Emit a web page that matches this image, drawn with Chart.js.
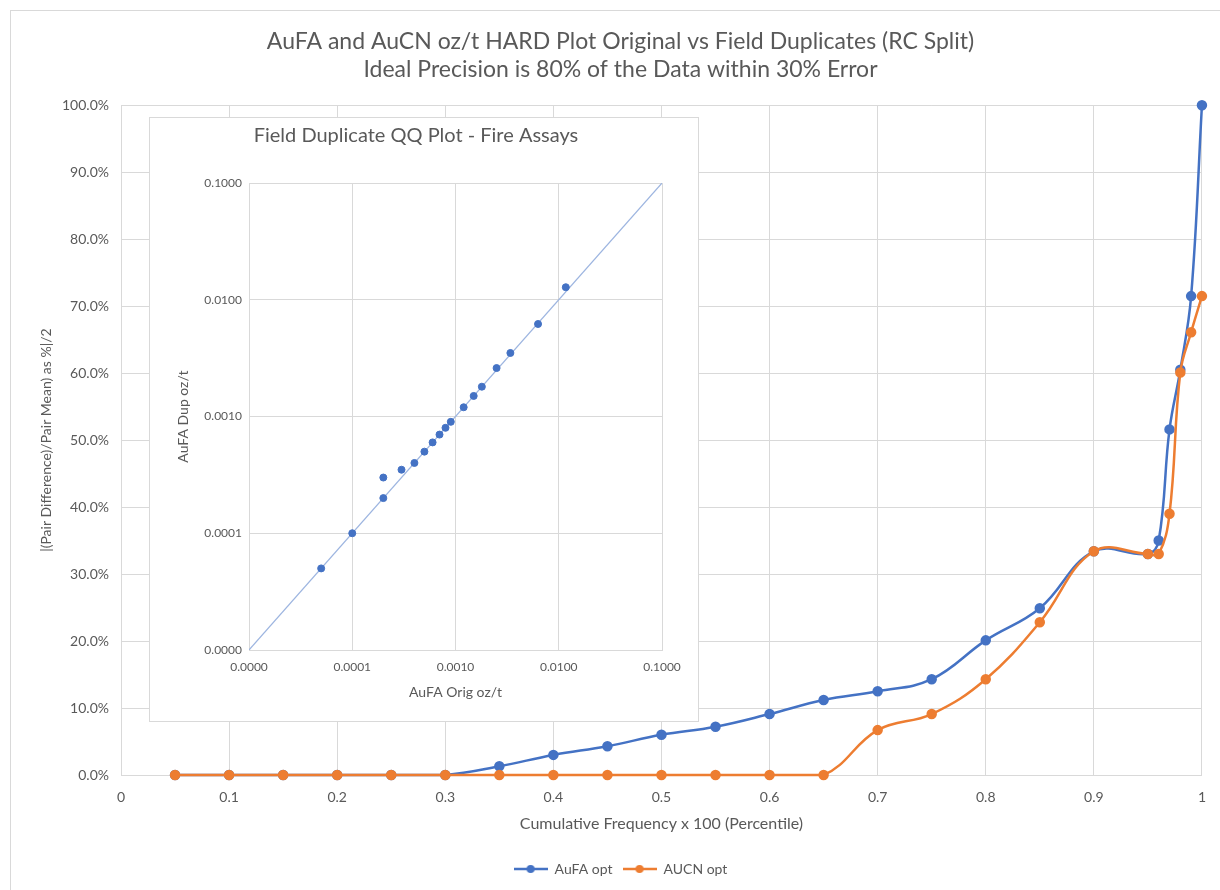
<!DOCTYPE html>
<html>
<head>
<meta charset="utf-8">
<title>HARD Plot</title>
<script src="https://cdn.jsdelivr.net/npm/chart.js@4.4.1/dist/chart.umd.min.js"></script>
<style>
  body { margin: 0; background: #ffffff; }
  #marco { position: absolute; left: 10px; top: 10px; width: 1220px; height: 890px; border: 1px solid #d9d9d9; }
  #graficoPrincipal { position: absolute; left: 0; top: 0; }
  #recuadroQQ { position: absolute; left: 149px; top: 117px; width: 548px; height: 603px; border: 1px solid #d9d9d9; background: #ffffff; }
  #graficoQQ { position: absolute; left: 0; top: 0; }
</style>
</head>
<body>
<div id="marco"></div>
<canvas id="graficoPrincipal" width="1220" height="890"></canvas>
<div id="recuadroQQ"><canvas id="graficoQQ" width="548" height="603"></canvas></div>

<script>
// Datos del grafico principal (percentil vs error relativo en %)
const percentil = [0.05, 0.1, 0.15, 0.2, 0.25, 0.3, 0.35, 0.4, 0.45, 0.5, 0.55, 0.6, 0.65,
                   0.7, 0.75, 0.8, 0.85, 0.9, 0.95, 0.96, 0.97, 0.98, 0.99, 1];
const aufaOpt = [0, 0, 0, 0, 0, 0, 1.3, 3.0, 4.3, 6.0, 7.2, 9.1, 11.2,
                 12.5, 14.3, 20.1, 24.9, 33.4, 33.0, 35.0, 51.6, 60.5, 71.5, 100];
const aucnOpt = [0, 0, 0, 0, 0, 0, 0, 0, 0, 0, 0, 0, 0,
                 6.7, 9.1, 14.3, 22.8, 33.4, 33.0, 33.0, 39.0, 60.1, 66.1, 71.5];

// Datos del QQ plot (oz/t)
const qqOrig = [0.00005, 0.0001, 0.0002, 0.0002, 0.0003, 0.0004, 0.0005, 0.0006, 0.0007,
                0.0008, 0.0009, 0.0012, 0.0015, 0.0018, 0.0025, 0.0034, 0.0063, 0.0117];
const qqDup = [0.00005, 0.0001, 0.0002, 0.0003, 0.00035, 0.0004, 0.0005, 0.0006, 0.0007,
               0.0008, 0.0009, 0.0012, 0.0015, 0.0018, 0.0026, 0.0035, 0.0062, 0.0128];
const marcasLog = [0.00001, 0.0001, 0.001, 0.01, 0.1];

const AZUL = "#4472C4";
const NARANJA = "#ED7D31";
const GRIS_TEXTO = "#595959";
const GRIS_GRILLA = "#d9d9d9";

Chart.defaults.font.family = "Lato, 'Open Sans', sans-serif";
Chart.defaults.color = GRIS_TEXTO;

// Icono de leyenda: linea con punto al medio
function crearIconoLeyenda(color) {
  const c = document.createElement("canvas");
  c.width = 34;
  c.height = 10;
  const g = c.getContext("2d");
  g.strokeStyle = color;
  g.lineWidth = 2.5;
  g.beginPath();
  g.moveTo(0, 5);
  g.lineTo(34, 5);
  g.stroke();
  g.fillStyle = color;
  g.beginPath();
  g.arc(17, 5, 4, 0, Math.PI * 2);
  g.fill();
  return c;
}

function armarPuntos(xs, ys) {
  return xs.map((x, i) => ({ x: x, y: ys[i] }));
}

function dibujarGraficoPrincipal() {
  const datos = {
    datasets: [
      {
        label: "AuFA opt",
        data: armarPuntos(percentil, aufaOpt),
        borderColor: AZUL,
        backgroundColor: AZUL,
        borderWidth: 2.5,
        pointRadius: 4,
        tension: 0.4,
        clip: false,
        order: 1,
      },
      {
        label: "AUCN opt",
        data: armarPuntos(percentil, aucnOpt),
        borderColor: NARANJA,
        backgroundColor: NARANJA,
        borderWidth: 2.5,
        pointRadius: 4,
        tension: 0.4,
        clip: false,
        order: 0,
      },
    ],
  };

  const config = {
    type: "line",
    data: datos,
    options: {
      responsive: false,
      animation: false,
      layout: { padding: { left: 38, right: 17, top: 28, bottom: 4 } },
      plugins: {
        title: {
          display: true,
          text: [
            "AuFA and AuCN oz/t HARD Plot Original vs Field Duplicates (RC Split)",
            "Ideal Precision is 80% of the Data within 30% Error",
          ],
          color: GRIS_TEXTO,
          font: { size: 23, weight: "normal", lineHeight: 1.2 },
          padding: { top: 0, bottom: 22 },
        },
        legend: {
          position: "bottom",
          labels: {
            usePointStyle: true,
            pointStyleWidth: 34,
            padding: 10,
            color: GRIS_TEXTO,
            font: { size: 14 },
            generateLabels: (chart) =>
              chart.data.datasets.map((ds, i) => ({
                text: ds.label,
                pointStyle: crearIconoLeyenda(ds.borderColor),
                fillStyle: ds.borderColor,
                strokeStyle: ds.borderColor,
                lineWidth: 0,
                fontColor: GRIS_TEXTO,
                datasetIndex: i,
              })),
          },
        },
        tooltip: { enabled: false },
      },
      scales: {
        x: {
          type: "linear",
          min: 0,
          max: 1,
          grid: { color: GRIS_GRILLA, drawTicks: false },
          border: { color: GRIS_GRILLA },
          ticks: {
            stepSize: 0.1,
            padding: 14,
            font: { size: 14 },
            callback: (v) => String(Math.round(v * 10) / 10),
          },
          title: {
            display: true,
            text: "Cumulative Frequency x 100 (Percentile)",
            font: { size: 16 },
            padding: { top: 0, bottom: 19 },
          },
          afterFit: (escala) => { escala.height = 77; },
        },
        y: {
          min: 0,
          max: 100,
          grid: { color: GRIS_GRILLA, drawTicks: false },
          border: { color: GRIS_GRILLA },
          ticks: {
            stepSize: 10,
            padding: 12,
            font: { size: 14 },
            callback: (v) => v.toFixed(1) + "%",
          },
          title: {
            display: true,
            text: "|(Pair Difference)/Pair Mean) as %|/2",
            font: { size: 14 },
            padding: { top: 0, bottom: 0 },
          },
          afterFit: (escala) => { escala.width = 83; },
        },
      },
    },
  };

  const ctx = document.getElementById("graficoPrincipal").getContext("2d");
  new Chart(ctx, config);
}

function dibujarGraficoQQ() {
  const datos = {
    datasets: [
      {
        label: "AuFA",
        data: armarPuntos(qqOrig, qqDup),
        backgroundColor: AZUL,
        borderColor: AZUL,
        pointRadius: 3.5,
      },
      {
        label: "1:1",
        data: [
          { x: marcasLog[0], y: marcasLog[0] },
          { x: marcasLog[marcasLog.length - 1], y: marcasLog[marcasLog.length - 1] },
        ],
        showLine: true,
        borderColor: "#9DB5E0",
        borderWidth: 1.2,
        pointRadius: 0,
      },
    ],
  };

  // Solo marcas en cada decada
  const soloDecadas = (escala) => {
    escala.ticks = marcasLog.map((v) => ({ value: v }));
  };

  const config = {
    type: "scatter",
    data: datos,
    options: {
      responsive: false,
      animation: false,
      layout: { padding: { left: 20, right: 36, top: 0, bottom: 0 } },
      plugins: {
        title: {
          display: true,
          text: "Field Duplicate QQ Plot - Fire Assays",
          color: GRIS_TEXTO,
          font: { size: 20, weight: "normal" },
          padding: { top: 6, bottom: 35 },
        },
        legend: { display: false },
        tooltip: { enabled: false },
      },
      scales: {
        x: {
          type: "logarithmic",
          min: marcasLog[0],
          max: marcasLog[marcasLog.length - 1],
          afterBuildTicks: soloDecadas,
          grid: { color: GRIS_GRILLA, drawTicks: false },
          border: { color: GRIS_GRILLA },
          ticks: { padding: 10, font: { size: 12 }, callback: (v) => Number(v).toFixed(4) },
          title: { display: true, text: "AuFA Orig oz/t", font: { size: 14 }, padding: { top: 0, bottom: 20 } },
          afterFit: (escala) => { escala.height = 71; },
        },
        y: {
          type: "logarithmic",
          min: marcasLog[0],
          max: marcasLog[marcasLog.length - 1],
          afterBuildTicks: soloDecadas,
          grid: { color: GRIS_GRILLA, drawTicks: false },
          border: { color: GRIS_GRILLA },
          ticks: { padding: 7, font: { size: 12 }, callback: (v) => Number(v).toFixed(4) },
          title: { display: true, text: "AuFA Dup oz/t", font: { size: 14 }, padding: { top: 5, bottom: 0 } },
          afterFit: (escala) => { escala.width = 79; },
        },
      },
    },
  };

  const ctx = document.getElementById("graficoQQ").getContext("2d");
  new Chart(ctx, config);
}

dibujarGraficoPrincipal();
dibujarGraficoQQ();
</script>
</body>
</html>
